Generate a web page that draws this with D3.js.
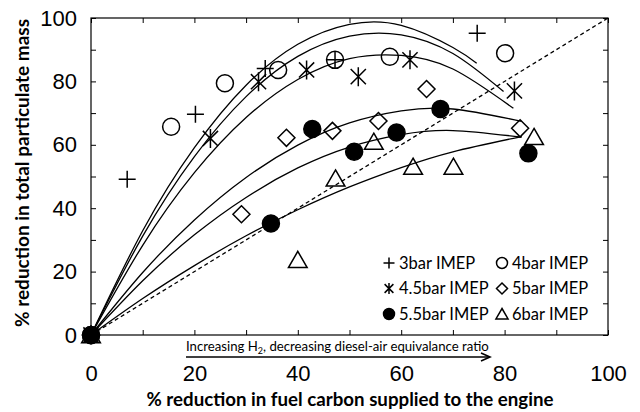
<!DOCTYPE html>
<html lang="en">
<head>
    <meta charset="UTF-8">
    <title>PM reduction vs fuel carbon reduction</title>
    <script src="https://d3js.org/d3.v7.min.js"></script>
</head>
<body style="margin:0;background:#fff">
<style>
    svg { font-family: Lato, "Open Sans", sans-serif; }
    .tick line { stroke: #000; stroke-width: 1; }
    .tick text { font-size: 22px; fill: #000; }
    .mark { stroke: #000; stroke-width: 1.5; }
</style>

<div id="chart"></div>

<script>
    // measured points, [x, y] in %
    var pts3bar  = [[0, 0], [7, 49.1], [20.2, 69.6], [33.7, 84.1], [47.2, 86.8], [74.7, 95.2]];
    var pts4bar  = [[0, 0], [15.5, 65.7], [25.9, 79.4], [36.2, 83.6], [47.2, 86.8], [57.8, 87.8], [80.1, 88.9]];
    var pts45bar = [[0, 0], [23.1, 62], [32.4, 79.9], [41.7, 83.6], [51.7, 81.5], [61.7, 86.8], [81.9, 77]];
    var pts5bar  = [[0, 0], [29.1, 38.1], [37.8, 62.2], [46.7, 64.4], [55.6, 67.5], [64.9, 77.6], [83, 65.2]];
    var pts55bar = [[0, 0], [34.8, 35.2], [42.8, 65], [50.9, 57.8], [59.1, 63.9], [67.6, 71.3], [84.6, 57.3]];
    var pts6bar  = [[0, 0], [40, 23.7], [47.3, 49.4], [54.7, 61], [62.3, 53.1], [70.1, 53.1], [85.7, 62.5]];

    // trend lines
    var fit3bar  = [[0, 0], [10, 32.9], [20, 59.1], [30, 78.8], [40, 91.7], [50, 98.0], [60, 97.7], [70, 90.7], [74.6, 85.7]];
    var fit4bar  = [[0, 0], [10, 31.2], [20, 56.3], [30, 75.2], [40, 87.9], [50, 94.3], [60, 94.7], [70, 88.8], [79.8, 76.8]];
    var fit45bar = [[0, 0], [10, 28.3], [20, 51.2], [30, 68.6], [40, 80.6], [50, 87.2], [60, 88.2], [70, 83.9], [81.7, 71.5]];
    var fit5bar  = [[0, 0], [10, 19.7], [20, 36.3], [30, 49.7], [40, 59.9], [50, 66.9], [60, 70.7], [70, 71.3], [83.3, 67.4]];
    var fit55bar = [[0, 0], [10, 17.1], [20, 31.6], [30, 43.4], [40, 52.7], [50, 59.3], [60, 63.2], [70, 64.5], [83.3, 62.4]];
    var fit6bar  = [[0, 0], [10, 11.5], [20, 21.9], [30, 31.3], [40, 39.5], [50, 46.7], [60, 52.8], [70, 57.8], [83.3, 62.6]];

    var parity = [[0, 0], [100, 100]];

    var seriesNames = ["3bar IMEP", "4bar IMEP", "4.5bar IMEP", "5bar IMEP", "5.5bar IMEP", "6bar IMEP"];
    var xTickLabels = [0, 20, 40, 60, 80, 100];
    var yTickLabels = [0, 20, 40, 60, 80, 100];
    var minorTicks = [0, 10, 20, 30, 40, 50, 60, 70, 80, 90, 100];

    var W = 640, H = 412;
    var margin = {top: 18, right: 32, bottom: 77, left: 91},
        width = W - margin.left - margin.right,
        height = H - margin.top - margin.bottom;

    var svg = d3.select("#chart").append("svg")
        .attr("width", W)
        .attr("height", H);

    var x = d3.scaleLinear().domain([0, 100]).range([margin.left, margin.left + width]);
    var y = d3.scaleLinear().domain([0, 100]).range([margin.top + height, margin.top]);

    // marker shapes
    function markPath(type, s) {
        var k = s * 0.8;
        if (type == "plus") return "M" + (-s) + ",0H" + s + "M0," + (-s) + "V" + s;
        if (type == "star") return "M0," + (-s) + "V" + s + "M" + (-k) + "," + (-k) + "L" + k + "," + k + "M" + (-k) + "," + k + "L" + k + "," + (-k);
        if (type == "diamond") return "M0," + (-s) + "L" + s + ",0L0," + s + "L" + (-s) + ",0Z";
        if (type == "triangle") return "M0," + (-s) + "L" + (s * 1.1) + "," + (s * 0.9) + "L" + (-s * 1.1) + "," + (s * 0.9) + "Z";
        // circle
        return "M" + s + ",0A" + s + "," + s + " 0 1,1 " + (-s) + ",0A" + s + "," + s + " 0 1,1 " + s + ",0Z";
    }

    var series = [
        {name: seriesNames[0], pts: pts3bar,  fit: fit3bar,  type: "plus",     fill: "none"},
        {name: seriesNames[1], pts: pts4bar,  fit: fit4bar,  type: "circle",   fill: "none"},
        {name: seriesNames[2], pts: pts45bar, fit: fit45bar, type: "star",     fill: "none"},
        {name: seriesNames[3], pts: pts5bar,  fit: fit5bar,  type: "diamond",  fill: "none"},
        {name: seriesNames[4], pts: pts55bar, fit: fit55bar, type: "circle",   fill: "#000"},
        {name: seriesNames[5], pts: pts6bar,  fit: fit6bar,  type: "triangle", fill: "none"}
    ];

    // ticks (all pointing inward)
    function noLabel() { return ""; }
    svg.append("g").attr("transform", "translate(0," + y(0) + ")")
        .call(d3.axisBottom(x).tickValues(minorTicks).tickSize(-5).tickPadding(30)
            .tickFormat(function(d) { return xTickLabels.indexOf(d) >= 0 ? d : ""; }));
    svg.append("g").attr("transform", "translate(0," + y(100) + ")")
        .call(d3.axisTop(x).tickValues(minorTicks).tickSize(-5).tickFormat(noLabel));
    svg.append("g").attr("transform", "translate(" + x(0) + ",0)")
        .call(d3.axisLeft(y).tickValues(minorTicks).tickSize(-5).tickPadding(14)
            .tickFormat(function(d) { return yTickLabels.indexOf(d) >= 0 ? d : ""; }));
    svg.append("g").attr("transform", "translate(" + x(100) + ",0)")
        .call(d3.axisRight(y).tickValues(minorTicks).tickSize(-5).tickFormat(noLabel));
    svg.selectAll(".domain").remove();

    svg.append("rect")
        .attr("x", x(0)).attr("y", y(100))
        .attr("width", x(100) - x(0)).attr("height", y(0) - y(100))
        .attr("fill", "none").attr("stroke", "#000").attr("stroke-width", 1.2);

    var line = d3.line()
        .x(function(d) { return x(d[0]); })
        .y(function(d) { return y(d[1]); })
        .curve(d3.curveNatural);

    // trend lines
    svg.append("g").selectAll("path").data(series).enter().append("path")
        .attr("d", function(d) { return line(d.fit); })
        .attr("fill", "none").attr("stroke", "#000").attr("stroke-width", 1.3);

    // 1:1 line
    svg.append("path")
        .attr("d", d3.line().x(function(d) { return x(d[0]); }).y(function(d) { return y(d[1]); })(parity))
        .attr("fill", "none").attr("stroke", "#000").attr("stroke-width", 1.3)
        .attr("stroke-dasharray", "4,3");

    // markers
    series.forEach(function(s) {
        svg.append("g").selectAll("path").data(s.pts).enter().append("path")
            .attr("class", "mark")
            .attr("transform", function(d) { return "translate(" + x(d[0]) + "," + y(d[1]) + ")"; })
            .attr("d", markPath(s.type, s.type == "star" ? 9.5 : 8.5))
            .attr("fill", s.fill);
    });

    // legend
    var leg = svg.append("g").selectAll("g").data(series).enter().append("g")
        .attr("transform", function(d, i) {
            return "translate(" + (i % 2 == 0 ? 389 : 502) + "," + (263 + Math.floor(i / 2) * 25.5) + ")";
        });
    leg.append("path").attr("class", "mark")
        .attr("d", function(d) { return markPath(d.type, 5.5); })
        .attr("fill", function(d) { return d.fill; })
        .attr("stroke-width", 1.2);
    leg.append("text")
        .attr("x", 10).attr("dy", "0.36em")
        .style("font-size", "16.5px")
        .text(function(d) { return d.name; });

    // annotation with arrow
    var note = svg.append("text")
        .attr("x", 186).attr("y", 351)
        .style("font-size", "13.2px");
    note.append("tspan").text("Increasing H");
    note.append("tspan").attr("dy", 3).style("font-size", "9px").text("2");
    note.append("tspan").attr("dy", -3).text(", decreasing diesel-air equivalance ratio");

    svg.append("line")
        .attr("x1", 186).attr("x2", 489).attr("y1", 357).attr("y2", 357)
        .attr("stroke", "#000").attr("stroke-width", 1.6);
    svg.append("path")
        .attr("d", "M481,353L490,357L481,361")
        .attr("fill", "none").attr("stroke", "#000").attr("stroke-width", 1.6);

    // axis titles
    svg.append("text")
        .attr("x", 350).attr("y", 406)
        .attr("text-anchor", "middle")
        .style("font-size", "18.7px").style("font-weight", "bold")
        .text("% reduction in fuel carbon supplied to the engine");

    svg.append("text")
        .attr("transform", "translate(29," + 173 + ") rotate(-90)")
        .attr("text-anchor", "middle")
        .style("font-size", "19px").style("font-weight", "bold")
        .text("% reduction in total particulate mass");
</script>

</body>
</html>
